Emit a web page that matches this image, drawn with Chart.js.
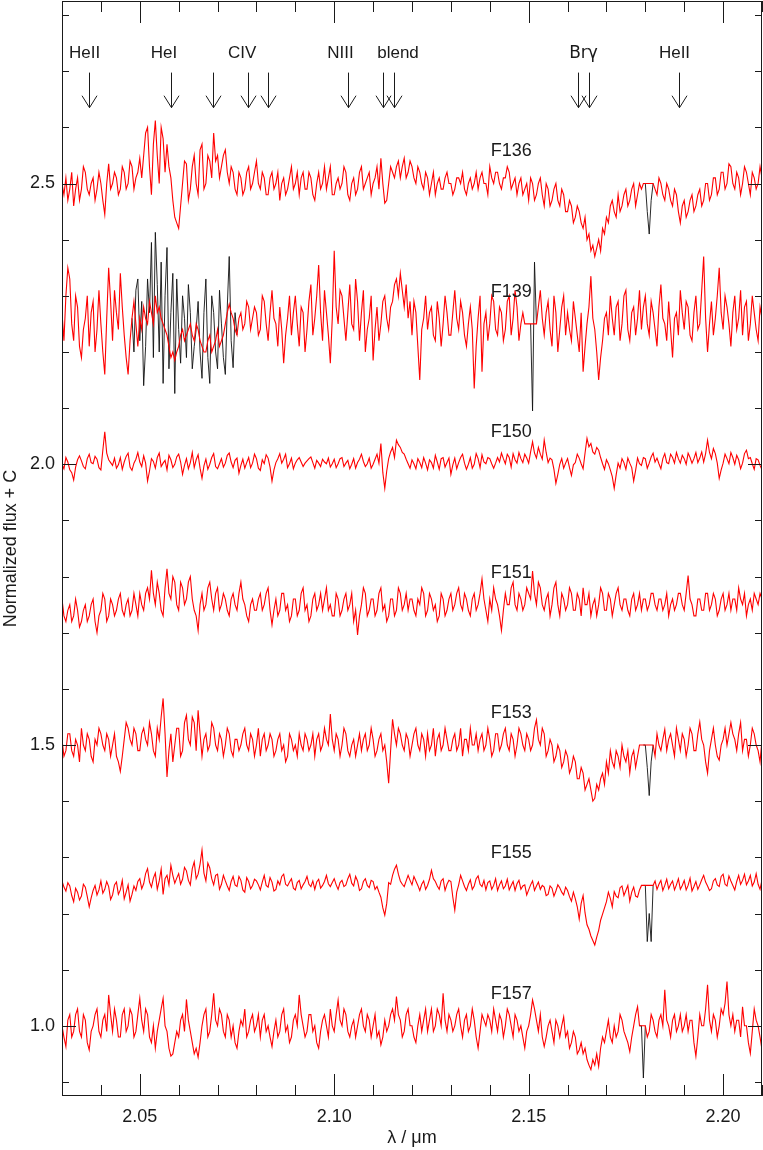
<!DOCTYPE html>
<html>
<head>
<meta charset="utf-8">
<script src="https://cdn.jsdelivr.net/npm/chart.js@4.4.1/dist/chart.umd.min.js"></script>
<style>
  html, body { margin: 0; padding: 0; background: #fff; }
  #wrap { width: 763px; height: 1150px; position: relative; }
</style>
</head>
<body>
<div id="wrap"><canvas id="c" width="763" height="1150"></canvas></div>
<script>
// ---------------- DATA ----------------
// wavelength grid of the spectra (micron)
const lambdaStart = 2.030;
const lambdaStep = 0.0005;
const nPix = 361;
const wavelengths = Array.from({length: nPix}, (_, i) => +(lambdaStart + i * lambdaStep).toFixed(4));

const starNames = ['F136', 'F139', 'F150', 'F151', 'F153', 'F155', 'F157'];
const offsets = [2.50, 2.25, 2.00, 1.75, 1.50, 1.25, 1.00];

const f136 = [
2.50,2.48,2.51,2.47,2.49,2.52,2.46,2.49,2.51,2.47,2.49,2.53,2.52,2.49,2.48,2.50,2.51,2.47,2.49,2.52,
2.50,2.47,2.445,2.50,2.535,2.49,2.50,2.52,2.51,2.48,2.49,2.53,2.52,2.49,2.50,2.54,2.53,2.49,2.51,2.52,
2.545,2.51,2.55,2.59,2.60,2.53,2.48,2.57,2.612,2.55,2.50,2.60,2.58,2.52,2.57,2.53,2.51,2.47,2.44,2.43,
2.42,2.46,2.50,2.54,2.535,2.47,2.49,2.53,2.55,2.50,2.48,2.56,2.57,2.49,2.50,2.55,2.54,2.51,2.59,2.54,
2.55,2.51,2.53,2.55,2.56,2.52,2.50,2.53,2.52,2.49,2.48,2.52,2.51,2.48,2.49,2.52,2.53,2.49,2.50,2.52,
2.54,2.50,2.49,2.52,2.51,2.48,2.48,2.51,2.52,2.49,2.50,2.52,2.47,2.50,2.51,2.48,2.49,2.51,2.53,2.49,
2.50,2.52,2.48,2.51,2.52,2.49,2.49,2.52,2.51,2.48,2.47,2.50,2.52,2.49,2.50,2.53,2.49,2.51,2.53,2.48,
2.48,2.50,2.51,2.49,2.50,2.53,2.52,2.48,2.47,2.50,2.51,2.48,2.49,2.52,2.53,2.49,2.50,2.51,2.52,2.48,
2.50,2.51,2.53,2.49,2.545,2.50,2.465,2.47,2.50,2.53,2.52,2.51,2.53,2.54,2.51,2.53,2.545,2.51,2.52,2.54,
2.53,2.51,2.50,2.53,2.52,2.50,2.49,2.52,2.51,2.48,2.50,2.52,2.48,2.50,2.51,2.49,2.49,2.51,2.52,2.50,
2.50,2.48,2.49,2.51,2.51,2.50,2.52,2.49,2.48,2.50,2.51,2.49,2.50,2.52,2.49,2.51,2.52,2.50,2.50,2.48,
2.53,2.51,2.50,2.52,2.52,2.50,2.49,2.51,2.51,2.53,2.52,2.49,2.50,2.51,2.48,2.50,2.51,2.48,2.49,2.50,
2.47,2.51,2.50,2.47,2.48,2.50,2.51,2.48,2.46,2.50,2.49,2.46,2.47,2.49,2.50,2.47,2.46,2.49,2.48,2.45,
2.45,2.47,2.46,2.43,2.44,2.46,2.45,2.43,2.42,2.44,2.40,2.41,2.38,2.39,2.37,2.385,2.40,2.38,2.42,2.41,
2.44,2.43,2.46,2.47,2.45,2.44,2.48,2.45,2.46,2.48,2.49,2.46,2.47,2.49,2.50,2.46,2.48,2.50,2.49,2.50,
2.50,2.50,2.50,2.50,2.50,2.49,2.48,2.51,2.50,2.48,2.47,2.50,2.49,2.47,2.46,2.49,2.48,2.45,2.43,2.46,
2.47,2.44,2.45,2.47,2.48,2.45,2.46,2.48,2.49,2.46,2.47,2.50,2.50,2.47,2.48,2.51,2.51,2.48,2.49,2.52,
2.52,2.49,2.50,2.535,2.53,2.50,2.49,2.52,2.51,2.48,2.50,2.53,2.52,2.50,2.48,2.52,2.51,2.49,2.50,2.53,2.51];

const f139 = [
2.27,2.22,2.30,2.35,2.33,2.25,2.22,2.30,2.28,2.21,2.19,2.24,2.26,2.30,2.21,2.27,2.29,2.20,2.24,2.31,
2.25,2.20,2.16,2.26,2.35,2.29,2.22,2.31,2.27,2.24,2.34,2.28,2.23,2.19,2.16,2.22,2.26,2.29,2.25,2.21,
2.26,2.24,2.28,2.26,2.25,2.29,2.27,2.25,2.30,2.27,2.28,2.26,2.25,2.24,2.23,2.21,2.19,2.20,2.185,2.20,
2.21,2.23,2.24,2.22,2.23,2.24,2.25,2.23,2.22,2.25,2.24,2.22,2.21,2.20,2.20,2.22,2.23,2.20,2.21,2.22,
2.24,2.21,2.22,2.23,2.25,2.27,2.285,2.27,2.26,2.24,2.23,2.26,2.27,2.24,2.25,2.29,2.28,2.24,2.26,2.28,
2.27,2.23,2.24,2.30,2.29,2.25,2.22,2.27,2.31,2.26,2.25,2.21,2.28,2.24,2.18,2.23,2.26,2.30,2.23,2.27,
2.30,2.25,2.21,2.28,2.27,2.20,2.24,2.29,2.32,2.23,2.26,2.30,2.355,2.27,2.22,2.31,2.27,2.23,2.18,2.26,
2.38,2.28,2.25,2.31,2.30,2.26,2.22,2.27,2.32,2.25,2.24,2.33,2.29,2.22,2.27,2.31,2.20,2.24,2.26,2.30,
2.185,2.24,2.28,2.22,2.25,2.29,2.30,2.26,2.24,2.28,2.29,2.32,2.33,2.30,2.34,2.31,2.28,2.32,2.26,2.29,
2.23,2.29,2.27,2.21,2.15,2.24,2.26,2.30,2.24,2.27,2.28,2.23,2.22,2.29,2.26,2.21,2.25,2.30,2.27,2.23,
2.23,2.27,2.31,2.26,2.24,2.29,2.27,2.23,2.21,2.25,2.28,2.24,2.135,2.21,2.26,2.30,2.165,2.25,2.27,2.22,
2.25,2.30,2.29,2.24,2.23,2.28,2.27,2.22,2.24,2.29,2.30,2.23,2.26,2.31,2.28,2.22,2.25,2.27,2.25,2.25,
2.25,2.25,2.25,2.25,2.25,2.28,2.31,2.26,2.23,2.27,2.29,2.24,2.21,2.30,2.27,2.20,2.24,2.28,2.30,2.23,
2.27,2.24,2.22,2.29,2.26,2.23,2.20,2.27,2.165,2.21,2.25,2.28,2.335,2.26,2.24,2.20,2.15,2.19,2.22,2.26,
2.27,2.23,2.30,2.26,2.23,2.28,2.29,2.22,2.25,2.30,2.31,2.24,2.22,2.27,2.28,2.23,2.26,2.31,2.24,2.28,
2.30,2.25,2.23,2.29,2.27,2.24,2.21,2.28,2.32,2.26,2.25,2.22,2.29,2.24,2.19,2.26,2.27,2.23,2.31,2.27,
2.24,2.29,2.28,2.23,2.22,2.27,2.30,2.24,2.25,2.31,2.37,2.26,2.20,2.25,2.29,2.23,2.26,2.30,2.35,2.27,
2.24,2.30,2.28,2.25,2.21,2.27,2.30,2.24,2.26,2.31,2.23,2.28,2.29,2.22,2.25,2.30,2.27,2.24,2.22,2.28,2.26];

const f150 = [
2.000,1.992,2.012,2.004,1.990,1.985,1.972,1.995,2.008,2.015,2.006,1.996,1.992,2.010,2.018,2.003,2.001,2.014,2.009,1.994,
1.990,2.025,2.058,2.020,2.008,2.003,1.998,2.011,1.993,1.999,2.012,1.991,2.004,2.014,2.020,1.995,1.989,2.002,2.009,2.021,
2.004,1.996,2.015,2.002,1.970,1.988,2.010,2.005,1.993,2.012,2.020,1.996,2.002,2.007,1.990,2.016,2.008,1.994,2.000,2.013,
2.018,2.004,1.982,1.998,2.010,1.992,2.003,2.021,1.994,2.008,2.017,1.993,1.975,1.997,2.009,1.991,2.000,2.012,2.019,1.996,
1.992,2.001,2.010,1.995,2.002,2.016,2.020,2.004,1.994,2.007,2.011,1.984,1.998,2.009,1.993,2.003,2.012,1.994,2.002,2.018,
2.010,1.993,1.989,2.008,2.001,2.017,2.011,1.995,1.970,1.990,2.003,2.010,2.019,2.002,2.009,2.018,1.994,2.001,2.011,1.992,
2.002,2.008,2.012,2.004,1.996,2.002,2.006,2.010,2.013,2.003,1.993,2.007,2.002,1.996,2.009,2.004,2.001,2.011,1.995,2.001,
2.009,1.994,2.001,2.010,2.012,1.996,2.002,2.007,1.992,2.000,2.010,1.993,2.003,2.009,2.018,2.005,1.996,2.001,2.011,1.993,
2.000,2.009,2.018,2.002,2.037,1.985,1.957,1.988,2.010,2.022,2.030,2.012,2.043,2.035,2.030,2.021,2.018,2.009,2.001,1.993,
2.008,2.001,1.992,2.010,2.003,1.994,2.012,2.002,1.990,2.008,2.003,1.993,2.016,2.004,1.991,2.010,2.012,1.995,2.003,2.011,
1.982,1.999,2.011,1.992,2.003,2.012,2.018,2.002,1.991,2.000,2.012,1.993,2.000,2.019,2.010,1.994,2.017,2.004,2.001,2.012,
2.010,2.001,1.993,2.002,2.012,2.004,2.020,2.010,2.001,2.018,2.012,1.995,2.019,2.008,2.002,2.021,2.010,2.003,2.018,2.011,
2.002,2.022,2.040,2.020,2.011,2.030,2.018,2.009,2.043,2.021,2.003,2.011,2.008,1.991,1.966,1.982,2.000,2.010,1.993,2.002,
2.010,1.994,1.980,1.999,2.003,2.018,2.011,2.001,1.992,2.020,2.046,2.031,2.037,2.022,2.018,2.030,2.025,2.012,2.001,1.991,
2.008,2.001,1.990,1.978,1.957,1.981,2.002,1.993,2.010,2.003,1.991,2.011,2.002,1.994,1.970,1.989,2.011,2.001,1.998,2.012,
2.010,1.993,2.002,2.013,2.020,2.004,2.011,2.001,1.992,2.010,2.019,2.003,2.001,2.018,2.012,2.002,2.021,2.010,2.002,2.016,
2.010,2.000,2.020,2.012,2.002,2.010,2.021,2.003,2.011,2.022,2.004,2.019,2.043,2.021,2.010,2.028,2.019,2.002,1.975,1.990,
2.002,2.018,2.010,2.001,2.021,2.012,2.000,2.016,2.008,1.992,2.002,2.019,2.025,2.010,2.012,2.001,1.991,2.010,2.008,1.998,1.990];

const f151 = [
1.76,1.73,1.72,1.74,1.75,1.72,1.73,1.76,1.74,1.71,1.72,1.74,1.75,1.72,1.73,1.75,1.76,1.72,1.70,1.73,
1.74,1.77,1.76,1.72,1.73,1.76,1.75,1.73,1.74,1.76,1.77,1.74,1.73,1.75,1.76,1.73,1.74,1.77,1.75,1.73,
1.77,1.75,1.74,1.77,1.78,1.76,1.811,1.77,1.75,1.79,1.77,1.74,1.73,1.78,1.814,1.77,1.76,1.80,1.79,1.75,
1.74,1.79,1.78,1.75,1.76,1.79,1.80,1.76,1.74,1.73,1.704,1.75,1.77,1.74,1.75,1.78,1.79,1.76,1.74,1.77,
1.78,1.74,1.75,1.77,1.76,1.74,1.73,1.76,1.77,1.75,1.74,1.77,1.79,1.76,1.75,1.73,1.72,1.75,1.76,1.74,
1.74,1.76,1.77,1.74,1.75,1.77,1.78,1.74,1.714,1.74,1.76,1.73,1.74,1.77,1.77,1.74,1.75,1.72,1.73,1.76,
1.76,1.73,1.74,1.77,1.78,1.74,1.75,1.72,1.73,1.76,1.77,1.74,1.75,1.77,1.74,1.76,1.78,1.74,1.75,1.73,
1.73,1.77,1.76,1.73,1.74,1.76,1.77,1.74,1.75,1.77,1.72,1.74,1.696,1.73,1.75,1.78,1.77,1.73,1.74,1.76,
1.76,1.73,1.74,1.77,1.78,1.74,1.75,1.72,1.73,1.76,1.76,1.73,1.74,1.78,1.77,1.74,1.75,1.77,1.74,1.76,
1.76,1.74,1.73,1.76,1.75,1.78,1.77,1.73,1.74,1.77,1.76,1.74,1.75,1.72,1.73,1.77,1.76,1.73,1.74,1.76,
1.77,1.74,1.75,1.77,1.78,1.75,1.74,1.77,1.76,1.74,1.73,1.76,1.77,1.74,1.75,1.77,1.796,1.76,1.74,1.72,
1.76,1.74,1.78,1.76,1.75,1.73,1.704,1.74,1.77,1.75,1.75,1.78,1.79,1.75,1.74,1.77,1.76,1.74,1.75,1.78,
1.77,1.76,1.81,1.77,1.75,1.79,1.78,1.75,1.74,1.76,1.77,1.73,1.75,1.78,1.79,1.75,1.73,1.77,1.76,1.74,
1.75,1.78,1.77,1.74,1.74,1.77,1.76,1.73,1.78,1.75,1.75,1.77,1.73,1.75,1.76,1.73,1.75,1.78,1.77,1.74,
1.74,1.77,1.76,1.73,1.75,1.77,1.78,1.75,1.74,1.76,1.76,1.74,1.73,1.76,1.77,1.74,1.75,1.77,1.74,1.76,
1.76,1.74,1.75,1.77,1.77,1.75,1.74,1.76,1.76,1.74,1.75,1.77,1.73,1.75,1.76,1.74,1.75,1.77,1.77,1.75,
1.74,1.77,1.802,1.76,1.75,1.73,1.73,1.76,1.76,1.74,1.74,1.77,1.77,1.74,1.75,1.77,1.76,1.73,1.74,1.76,
1.77,1.74,1.75,1.77,1.74,1.76,1.76,1.74,1.78,1.76,1.75,1.77,1.73,1.75,1.76,1.74,1.77,1.76,1.75,1.77,1.76];

const f153 = [
1.51,1.48,1.49,1.52,1.52,1.49,1.48,1.51,1.50,1.47,1.53,1.50,1.49,1.52,1.51,1.48,1.47,1.51,1.50,1.53,
1.52,1.50,1.49,1.52,1.51,1.48,1.50,1.52,1.48,1.47,1.453,1.48,1.51,1.54,1.53,1.51,1.50,1.53,1.52,1.49,
1.49,1.52,1.53,1.51,1.50,1.54,1.52,1.49,1.48,1.53,1.51,1.55,1.583,1.52,1.443,1.49,1.52,1.47,1.50,1.53,
1.53,1.48,1.49,1.54,1.553,1.51,1.50,1.55,1.54,1.49,1.562,1.52,1.48,1.51,1.52,1.49,1.50,1.54,1.53,1.50,
1.49,1.52,1.51,1.48,1.50,1.53,1.52,1.49,1.48,1.51,1.51,1.49,1.50,1.52,1.53,1.50,1.49,1.52,1.51,1.48,
1.50,1.53,1.48,1.51,1.52,1.49,1.50,1.52,1.51,1.48,1.49,1.51,1.52,1.49,1.50,1.47,1.48,1.52,1.51,1.49,
1.50,1.48,1.52,1.50,1.49,1.52,1.51,1.49,1.50,1.52,1.48,1.51,1.52,1.49,1.50,1.53,1.51,1.50,1.555,1.51,
1.49,1.52,1.51,1.48,1.50,1.53,1.52,1.49,1.48,1.50,1.51,1.48,1.50,1.52,1.49,1.51,1.52,1.49,1.50,1.53,
1.51,1.48,1.49,1.51,1.52,1.49,1.50,1.47,1.432,1.49,1.546,1.52,1.50,1.53,1.52,1.50,1.49,1.52,1.51,1.48,
1.50,1.52,1.53,1.50,1.49,1.52,1.51,1.48,1.52,1.49,1.50,1.53,1.48,1.51,1.52,1.49,1.50,1.53,1.51,1.49,
1.49,1.51,1.52,1.49,1.50,1.53,1.48,1.51,1.51,1.49,1.53,1.50,1.50,1.52,1.49,1.51,1.52,1.49,1.50,1.53,
1.51,1.48,1.49,1.52,1.52,1.49,1.50,1.52,1.53,1.50,1.49,1.52,1.51,1.48,1.50,1.53,1.52,1.50,1.49,1.52,
1.51,1.49,1.50,1.53,1.545,1.51,1.50,1.53,1.52,1.48,1.49,1.51,1.50,1.47,1.48,1.50,1.49,1.46,1.47,1.49,
1.48,1.45,1.46,1.48,1.47,1.44,1.44,1.46,1.45,1.42,1.43,1.44,1.42,1.40,1.405,1.43,1.42,1.44,1.45,1.43,
1.47,1.45,1.49,1.47,1.46,1.49,1.48,1.46,1.50,1.48,1.47,1.49,1.45,1.48,1.49,1.46,1.48,1.50,1.50,1.50,
1.50,1.50,1.50,1.50,1.50,1.48,1.52,1.50,1.49,1.51,1.528,1.49,1.51,1.52,1.50,1.48,1.53,1.51,1.49,1.52,
1.51,1.48,1.50,1.53,1.52,1.49,1.49,1.52,1.541,1.51,1.50,1.47,1.45,1.49,1.51,1.53,1.50,1.48,1.473,1.50,
1.51,1.53,1.50,1.52,1.54,1.52,1.51,1.49,1.52,1.54,1.49,1.51,1.51,1.48,1.50,1.53,1.52,1.50,1.49,1.47,1.51];

const f155 = [
1.258,1.247,1.240,1.255,1.249,1.232,1.221,1.245,1.238,1.224,1.231,1.252,1.247,1.230,1.212,1.228,1.241,1.250,1.233,1.242,
1.258,1.236,1.243,1.257,1.248,1.225,1.233,1.251,1.256,1.234,1.242,1.259,1.226,1.238,1.251,1.222,1.234,1.249,1.241,1.257,
1.262,1.244,1.253,1.271,1.280,1.256,1.247,1.263,1.272,1.243,1.258,1.279,1.234,1.262,1.268,1.251,1.286,1.268,1.254,1.263,
1.271,1.252,1.261,1.282,1.276,1.259,1.251,1.280,1.292,1.262,1.270,1.288,1.313,1.272,1.258,1.290,1.281,1.262,1.251,1.268,
1.270,1.243,1.252,1.268,1.258,1.249,1.241,1.257,1.266,1.251,1.248,1.266,1.259,1.242,1.238,1.264,1.257,1.244,1.250,1.261,
1.258,1.251,1.242,1.256,1.268,1.250,1.247,1.264,1.256,1.240,1.243,1.258,1.251,1.266,1.270,1.252,1.249,1.256,1.262,1.245,
1.242,1.255,1.259,1.244,1.251,1.257,1.266,1.252,1.248,1.258,1.243,1.256,1.261,1.245,1.250,1.257,1.268,1.253,1.248,1.255,
1.262,1.251,1.243,1.255,1.259,1.248,1.251,1.262,1.270,1.254,1.249,1.266,1.258,1.241,1.244,1.257,1.262,1.250,1.246,1.259,
1.257,1.243,1.248,1.238,1.229,1.210,1.197,1.218,1.255,1.252,1.268,1.279,1.286,1.270,1.258,1.252,1.248,1.258,1.268,1.259,
1.251,1.266,1.258,1.250,1.241,1.252,1.258,1.243,1.250,1.261,1.277,1.262,1.257,1.249,1.243,1.258,1.262,1.241,1.252,1.259,
1.257,1.229,1.206,1.238,1.251,1.268,1.258,1.248,1.241,1.252,1.260,1.243,1.249,1.262,1.267,1.252,1.248,1.259,1.242,1.255,
1.258,1.243,1.250,1.262,1.241,1.251,1.258,1.244,1.249,1.261,1.242,1.250,1.257,1.241,1.253,1.259,1.243,1.249,1.251,1.233,
1.242,1.251,1.258,1.241,1.249,1.256,1.243,1.250,1.247,1.232,1.234,1.249,1.245,1.231,1.240,1.251,1.246,1.238,1.233,1.247,
1.241,1.230,1.222,1.238,1.226,1.212,1.190,1.218,1.232,1.201,1.180,1.172,1.160,1.152,1.144,1.158,1.170,1.188,1.199,1.210,
1.221,1.238,1.227,1.212,1.239,1.231,1.228,1.246,1.249,1.232,1.241,1.250,1.222,1.238,1.247,1.231,1.229,1.242,1.250,1.250,
1.250,1.250,1.250,1.250,1.250,1.258,1.243,1.252,1.259,1.241,1.250,1.261,1.244,1.252,1.258,1.242,1.251,1.262,1.243,1.250,
1.259,1.242,1.250,1.263,1.240,1.248,1.257,1.243,1.251,1.260,1.268,1.256,1.249,1.241,1.244,1.258,1.262,1.251,1.248,1.266,
1.270,1.252,1.249,1.267,1.258,1.250,1.242,1.257,1.268,1.252,1.259,1.270,1.251,1.258,1.268,1.249,1.256,1.271,1.252,1.243,1.260];

const f157 = [
1.00,0.98,0.963,1.01,1.02,0.98,0.99,1.02,1.03,0.99,0.98,1.02,1.01,0.97,0.957,0.99,1.00,1.02,1.03,0.99,
0.98,1.01,1.02,0.99,1.055,1.02,0.99,1.03,1.01,0.98,0.98,1.02,1.03,0.99,1.00,1.03,1.02,0.98,0.99,1.02,
1.049,1.01,0.99,1.03,1.02,0.98,0.97,1.00,0.96,0.99,1.01,1.03,1.049,1.00,0.99,0.96,0.946,0.95,0.97,0.99,
0.98,1.01,1.02,0.99,1.047,1.01,0.99,0.97,0.95,0.96,0.944,0.97,1.00,1.02,1.03,0.98,0.99,1.02,1.058,1.01,
1.00,1.03,1.02,0.99,0.98,1.02,1.01,0.98,1.00,0.97,0.96,0.99,1.01,1.00,1.03,0.98,0.99,1.01,1.02,0.99,
1.00,1.02,0.98,1.01,1.02,0.99,1.00,0.98,0.963,0.99,1.01,0.98,0.99,1.02,1.03,0.99,1.00,0.97,0.98,1.01,
1.02,1.00,1.055,1.02,1.00,0.98,0.99,1.02,1.02,0.99,1.00,0.97,0.96,0.99,1.01,1.02,1.00,0.98,1.03,1.00,
0.99,1.02,1.046,1.01,1.00,1.03,1.02,0.99,0.98,1.00,1.01,0.98,1.00,1.02,1.03,1.00,0.99,1.02,1.01,0.98,
1.00,1.02,0.98,0.99,0.966,0.98,1.01,0.99,1.00,1.02,1.03,1.01,1.052,1.02,1.01,0.98,0.99,1.02,1.03,1.00,
1.00,0.98,0.97,1.00,1.02,0.99,1.01,1.03,0.99,1.01,1.03,0.99,1.00,1.03,1.02,1.00,1.058,1.01,0.99,1.02,
1.01,0.99,1.00,1.02,1.03,1.00,0.98,1.01,1.02,0.99,1.00,1.03,1.01,0.98,0.96,0.99,1.02,1.01,1.00,1.02,
1.01,0.99,1.03,1.01,0.99,1.02,1.01,0.98,1.00,1.03,1.02,1.00,0.98,1.02,1.01,0.99,1.00,0.98,0.96,0.99,
1.00,1.02,1.046,1.03,1.01,0.99,1.02,0.98,0.963,0.98,1.00,1.01,0.99,0.97,1.01,1.00,0.98,1.00,1.016,0.98,
0.99,0.96,0.97,0.99,0.98,0.95,0.957,0.97,0.95,0.96,0.94,0.93,0.922,0.94,0.93,0.95,0.928,0.96,0.98,0.97,
0.99,1.01,0.98,0.97,1.00,0.98,0.99,1.02,1.01,0.99,0.98,0.97,0.954,0.98,1.00,1.02,1.034,1.00,1.00,1.00,
1.00,0.98,0.99,1.02,1.01,0.99,0.98,1.01,1.02,1.00,1.064,1.01,1.00,0.98,1.01,1.02,0.99,1.00,1.02,0.99,
1.00,1.02,0.99,1.01,1.01,0.97,0.946,0.98,1.02,1.00,1.00,1.03,1.073,1.01,0.99,1.02,1.01,0.98,1.00,1.03,
1.02,1.04,1.079,1.02,1.00,1.02,0.99,1.01,1.01,0.98,1.034,1.00,1.00,0.97,0.951,0.99,1.03,1.01,1.00,0.98,0.957];

// uncorrected (black) pieces: start wavelength + values on the same grid
const f136RawStart = 2.1795, f136Raw = [2.50, 2.50, 2.45, 2.41, 2.47, 2.50];
const f139RawStart = 2.048, f139Raw = [
2.26,2.20,2.31,2.33,2.22,2.29,2.14,2.21,2.33,2.27,2.395,2.19,2.413,2.32,2.20,2.36,2.144,2.30,2.386,2.17,
2.27,2.34,2.126,2.33,2.24,2.18,2.30,2.26,2.19,2.32,2.27,2.17,2.21,2.24,2.29,2.20,2.153,2.27,2.33,2.19,
2.144,2.30,2.27,2.20,2.17,2.31,2.25,2.19,2.16,2.28,2.37,2.22,2.172,2.27,2.23];
const f139Raw2Start = 2.1505, f139Raw2 = [2.25, 2.095, 2.36, 2.25];
const f153RawStart = 2.1795, f153Raw = [1.50, 1.50, 1.46, 1.41, 1.47, 1.50];
const f155RawStart = 2.1795, f155Raw = [1.25, 1.25, 1.15, 1.20, 1.15, 1.25];
const f157RawStart = 2.1785, f157Raw = [1.00, 1.00, 0.907, 1.00];

// line identifications
const lineNames = ['HeII', 'HeI', 'CIV', 'NIII', 'blend', 'Br\u03B3', 'HeII'];
const lineNameLambdas = [2.0358, 2.0562, 2.0763, 2.1016, 2.1164, 2.1641, 2.1875];
const arrowLambdas = [2.0370, 2.0580, 2.0689, 2.0779, 2.0830, 2.1035, 2.1126, 2.1154, 2.1627, 2.1654, 2.1886];

// axes
const xTickValues = [2.05, 2.10, 2.15, 2.20];
const yTickValues = [1.0, 1.5, 2.0, 2.5];

// ---------------- CHART ----------------
const series = [f136, f139, f150, f151, f153, f155, f157];
const rawPieces = [
  [f136RawStart, f136Raw], [f139RawStart, f139Raw], [f139Raw2Start, f139Raw2],
  [f153RawStart, f153Raw], [f155RawStart, f155Raw], [f157RawStart, f157Raw]
];

const datasets = [];
series.forEach((vals, k) => {
  datasets.push({
    label: starNames[k],
    data: vals.map((v, i) => ({x: wavelengths[i], y: v})),
    borderColor: '#ff0000', borderWidth: 1.1, pointRadius: 0, tension: 0, order: 1
  });
});
rawPieces.forEach(([start, vals]) => {
  datasets.push({
    label: 'raw',
    data: vals.map((v, i) => ({x: +(start + i * lambdaStep).toFixed(4), y: v})),
    borderColor: '#111111', borderWidth: 0.9, pointRadius: 0, tension: 0, order: 2
  });
});

const FONT = "'Liberation Sans', Arial, sans-serif";
const INK = '#1a1a1a';

const framePlugin = {
  id: 'frame',
  afterDraw(chart) {
    const {ctx, chartArea: a, scales: {x, y}} = chart;
    ctx.save();
    ctx.strokeStyle = INK;
    ctx.lineWidth = 1;
    ctx.strokeRect(a.left + 0.5, a.top + 0.5, a.right - a.left - 1, a.bottom - a.top - 1);
    ctx.beginPath();
    for (let k = 203; k <= 221; k++) {
      const px = Math.round(x.getPixelForValue(k / 100)) + 0.5;
      const len = (k % 5 === 0) ? 22 : 11;
      ctx.moveTo(px, a.bottom); ctx.lineTo(px, a.bottom - len);
      ctx.moveTo(px, a.top); ctx.lineTo(px, a.top + len);
    }
    for (let k = 9; k <= 28; k++) {
      const py = Math.round(y.getPixelForValue(k / 10)) + 0.5;
      const len = (k % 5 === 0) ? 14 : 7;
      ctx.moveTo(a.left, py); ctx.lineTo(a.left + len, py);
      ctx.moveTo(a.right, py); ctx.lineTo(a.right - len, py);
    }
    ctx.stroke();

    ctx.fillStyle = INK;
    ctx.font = '18px ' + FONT;
    ctx.textAlign = 'center';
    ctx.textBaseline = 'middle';
    starNames.forEach((n, k) => {
      ctx.fillText(n, x.getPixelForValue(2.1455), y.getPixelForValue(offsets[k] + 0.057));
    });

    lineNames.forEach((n, k) => {
      ctx.font = (n.indexOf('\u03B3') >= 0 ? "17px 'DejaVu Sans', sans-serif" : '17px ' + FONT);
      ctx.fillText(n, x.getPixelForValue(lineNameLambdas[k]), y.getPixelForValue(2.731));
    });
    ctx.beginPath();
    const yTop = y.getPixelForValue(2.6975), yBot = y.getPixelForValue(2.635);
    arrowLambdas.forEach(l => {
      const px = Math.round(x.getPixelForValue(l)) + 0.5;
      ctx.moveTo(px, yTop); ctx.lineTo(px, yBot);
      ctx.moveTo(px - 7.5, yBot - 12); ctx.lineTo(px, yBot); ctx.lineTo(px + 7.5, yBot - 12);
    });
    ctx.stroke();
    ctx.restore();
  }
};

new Chart(document.getElementById('c'), {
  type: 'line',
  data: { datasets },
  options: {
    responsive: false,
    animation: false,
    layout: { padding: { top: 1, right: 1, left: 0, bottom: 0 } },
    plugins: { legend: { display: false }, tooltip: { enabled: false } },
    scales: {
      x: {
        type: 'linear', min: 2.03, max: 2.21,
        grid: { display: false, drawTicks: false },
        border: { display: false },
        afterBuildTicks: (s) => { s.ticks = xTickValues.map(v => ({value: v})); },
        afterFit: (s) => { s.height = 54; s.paddingLeft = 0; s.paddingRight = 0; },
        ticks: { color: INK, font: { family: FONT, size: 18 }, padding: 10, maxRotation: 0,
                 callback: (v) => Number(v).toFixed(2) },
        title: { display: true, text: '\u03BB / \u03BCm', color: INK,
                 font: { family: FONT, size: 18 }, padding: { top: 0, bottom: 1 } }
      },
      y: {
        type: 'linear', min: 0.875, max: 2.825,
        grid: { display: false, drawTicks: false },
        border: { display: false },
        afterBuildTicks: (s) => { s.ticks = yTickValues.map(v => ({value: v})); },
        afterFit: (s) => { s.width = 62; s.paddingTop = 0; s.paddingBottom = 0; },
        ticks: { color: INK, font: { family: FONT, size: 18 }, padding: 7,
                 callback: (v) => Number(v).toFixed(1) },
        title: { display: true, text: 'Normalized flux + C', color: INK,
                 font: { family: FONT, size: 18 }, padding: { top: 0, bottom: 0 } }
      }
    }
  },
  plugins: [framePlugin]
});
</script>
</body>
</html>
